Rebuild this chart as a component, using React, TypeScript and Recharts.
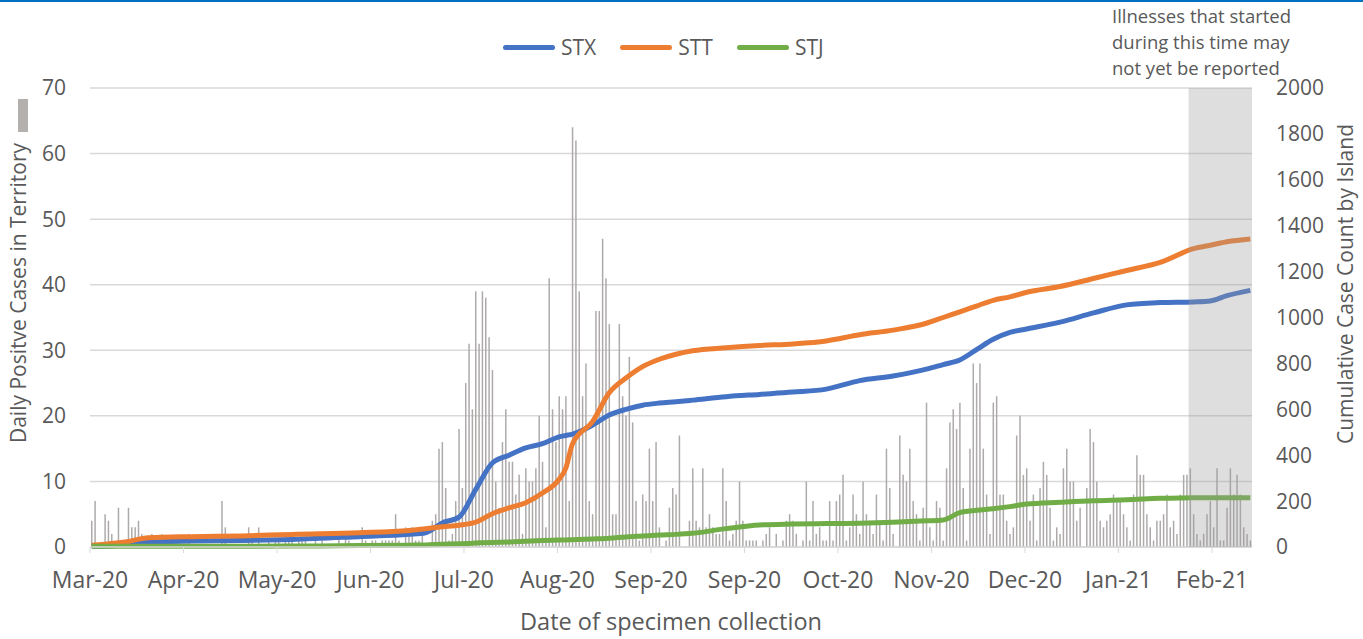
import React from "react";
import {
  ComposedChart,
  Bar,
  Line,
  XAxis,
  YAxis,
  CartesianGrid,
  ReferenceArea,
} from "recharts";

// daily positive cases, one per day of specimen collection
const daily = [
  4, 7, 0, 0, 5, 4, 2, 0, 6, 0,
  0, 6, 3, 3, 4, 2, 0, 0, 2, 0,
  0, 2, 0, 0, 0, 0, 0, 0, 0, 2,
  0, 0, 0, 0, 0, 0, 0, 0, 0, 7,
  3, 0, 0, 0, 0, 0, 0, 3, 1, 0,
  3, 0, 0, 1, 0, 1, 1, 0, 1, 1,
  1, 0, 1, 2, 2, 0, 0, 1, 0, 1,
  0, 0, 0, 0, 2, 0, 2, 1, 0, 0,
  0, 3, 1, 0, 1, 1, 0, 1, 1, 1,
  1, 5, 1, 0, 3, 2, 3, 1, 1, 3,
  0, 0, 4, 5, 15, 16, 9, 1, 2, 7,
  18, 9, 25, 31, 21, 39, 31, 39, 38, 32,
  27, 10, 6, 16, 21, 13, 13, 8, 11, 2,
  12, 10, 10, 12, 20, 13, 3, 41, 21, 16,
  23, 21, 23, 7, 64, 62, 39, 23, 28, 7,
  5, 36, 36, 47, 41, 34, 5, 5, 34, 23,
  20, 29, 19, 7, 1, 8, 7, 15, 7, 16,
  3, 0, 1, 6, 9, 8, 17, 0, 0, 4,
  12, 4, 3, 12, 3, 5, 3, 2, 2, 12,
  7, 1, 2, 4, 10, 4, 1, 1, 1, 1,
  0, 1, 2, 3, 0, 2, 0, 1, 4, 5,
  4, 2, 0, 1, 10, 1, 7, 2, 3, 1,
  1, 7, 1, 7, 8, 11, 1, 3, 8, 5,
  2, 10, 5, 4, 2, 8, 4, 1, 15, 9,
  2, 0, 17, 11, 10, 15, 7, 5, 1, 6,
  22, 3, 1, 7, 6, 1, 12, 19, 21, 18,
  22, 9, 1, 15, 28, 25, 28, 15, 8, 2,
  22, 23, 8, 8, 4, 2, 3, 17, 20, 11,
  12, 4, 8, 1, 9, 13, 11, 6, 1, 3,
  2, 12, 15, 10, 10, 4, 6, 0, 9, 18,
  16, 10, 4, 3, 4, 5, 8, 7, 7, 5,
  3, 1, 8, 14, 11, 11, 5, 3, 1, 4,
  4, 5, 8, 3, 4, 2, 8, 11, 11, 12,
  5, 2, 1, 2, 5, 7, 3, 12, 1, 1,
  6, 12, 8, 11, 8, 3, 2, 1,
];

// cumulative counts by island, read at these day indexes
const lineDays = [
  0, 10, 17, 30, 45, 60, 80, 95, 100, 105, 110, 115, 120, 125, 130, 135,
  140, 142, 144, 150, 155, 160, 165, 170, 175, 180, 190, 200, 210, 220, 230,
  240, 250, 255, 260, 265, 270, 275, 280, 290, 300, 310, 320, 330, 335, 340,
  347,
];
const stx = [
  3, 8, 22, 26, 28, 33, 45, 55, 62, 105, 130, 250, 366, 400, 432, 450,
  480, 486, 492, 531, 575, 600, 618, 627, 633, 640, 655, 665, 675, 688, 725,
  745, 775, 795, 815, 860, 905, 935, 950, 980, 1020, 1055, 1065, 1068, 1072,
  1095, 1118,
];
const stt = [
  8, 22, 40, 45, 48, 55, 62, 72, 80, 88, 95, 108, 145, 170, 193, 235,
  295, 344, 450, 546, 672, 736, 786, 818, 840, 855, 868, 878, 885, 898, 925,
  945, 975, 1000, 1025, 1050, 1075, 1090, 1110, 1135, 1170, 1205, 1240, 1300,
  1315, 1330, 1342,
];
const stj = [
  3, 3, 3, 3, 3, 4, 6, 8, 9, 12, 14, 17, 20, 22, 25, 28,
  30, 31, 32, 35, 38, 44, 48, 52, 55, 60, 80, 96, 100, 102, 104,
  108, 114, 118, 150, 160, 167, 176, 187, 195, 202, 206, 212, 215,
  215, 215, 215,
];

const tickLabels = [
  "Mar-20", "Apr-20", "May-20", "Jun-20", "Jul-20", "Aug-20", "Sep-20",
  "Sep-20", "Oct-20", "Nov-20", "Dec-20", "Jan-21", "Feb-21",
];
const tickStep = 28;
const leftTicks = [0, 10, 20, 30, 40, 50, 60, 70];
const rightTicks = [0, 200, 400, 600, 800, 1000, 1200, 1400, 1600, 1800, 2000];
const pendingFrom = 329;

const series = [
  { key: "stx", name: "STX", color: "#4472c4" },
  { key: "stt", name: "STT", color: "#ed7d31" },
  { key: "stj", name: "STJ", color: "#70ad47" },
];

const N = daily.length;
const rows: any[] = daily.map((v, i) => ({ x: i + 0.5, daily: v }));
lineDays.forEach((d, k) => {
  rows[d].stx = stx[k];
  rows[d].stt = stt[k];
  rows[d].stj = stj[k];
});

const FONT = "'Open Sans', sans-serif";
const TEXT = "#595959";

export default function App() {
  const xTicks = tickLabels.map((_, k) => k * tickStep);
  return (
    <div
      style={{
        position: "absolute",
        left: 0,
        top: 0,
        width: 1363,
        height: 639,
        background: "#fff",
        fontFamily: FONT,
        color: TEXT,
        overflow: "hidden",
      }}
    >
      <div style={{ position: "absolute", left: 0, top: 0, width: 1363, height: 2, background: "#0070c0" }} />

      <ComposedChart
        width={1363}
        height={639}
        data={rows}
        margin={{ top: 88, right: 41, bottom: 52, left: 30 }}
      >
        <CartesianGrid vertical={false} stroke="#d9d9d9" strokeWidth={1.5} yAxisId="left" />
        <XAxis
          type="number"
          dataKey="x"
          domain={[0, N]}
          ticks={xTicks}
          tickFormatter={(v) => tickLabels[Math.round(v / tickStep)]}
          axisLine={{ stroke: "#d9d9d9", strokeWidth: 1.5 }}
          tickLine={{ stroke: "#d9d9d9" }}
          tickSize={6}
          tickMargin={19}
          height={40}
          tick={{ fill: TEXT, fontSize: 23, fontFamily: FONT }}
          interval={0}
        />
        <YAxis
          yAxisId="left"
          domain={[0, 70]}
          ticks={leftTicks}
          width={60}
          axisLine={false}
          tickLine={false}
          tickSize={0}
          tickMargin={24}
          tick={{ fill: TEXT, fontSize: 21, fontFamily: FONT }}
        />
        <YAxis
          yAxisId="right"
          orientation="right"
          domain={[0, 2000]}
          ticks={rightTicks}
          width={70}
          axisLine={false}
          tickLine={false}
          tickSize={0}
          tickMargin={24}
          tick={{ fill: TEXT, fontSize: 21, fontFamily: FONT }}
        />
        <Bar
          yAxisId="left"
          dataKey="daily"
          fill="#aeaaaa"
          barSize={1.5}
          isAnimationActive={false}
        />
        {series.map((s) => (
          <Line
            key={s.key}
            yAxisId="right"
            type="monotone"
            dataKey={s.key}
            stroke={s.color}
            strokeWidth={5}
            dot={false}
            connectNulls
            isAnimationActive={false}
          />
        ))}
        <ReferenceArea
          yAxisId="left"
          x1={pendingFrom}
          x2={N}
          y1={0}
          y2={70}
          fill="#9a9a9a"
          fillOpacity={0.33}
          stroke="none"
          zIndex={1000}
        />
      </ComposedChart>

      {/* legend */}
      <div style={{ position: "absolute", top: 33, left: 503, display: "flex", alignItems: "center", fontSize: 21 }}>
        {series.map((s) => (
          <div key={s.key} style={{ display: "flex", alignItems: "center", marginRight: 24 }}>
            <div style={{ width: 52, height: 5, borderRadius: 3, background: s.color, marginRight: 6 }} />
            <span>{s.name}</span>
          </div>
        ))}
      </div>

      {/* bar series key */}
      <div style={{ position: "absolute", left: 18, top: 99, width: 10, height: 33, background: "#b4b0ae" }} />

      <div
        style={{
          position: "absolute",
          left: 18,
          top: 293,
          transform: "translate(-50%, -50%) rotate(-90deg)",
          whiteSpace: "nowrap",
          fontSize: 21,
        }}
      >
        Daily Positve Cases in Territory
      </div>
      <div
        style={{
          position: "absolute",
          left: 1345,
          top: 284,
          transform: "translate(-50%, -50%) rotate(-90deg)",
          whiteSpace: "nowrap",
          fontSize: 21,
        }}
      >
        Cumulative Case Count by Island
      </div>
      <div style={{ position: "absolute", left: 671, top: 621, transform: "translate(-50%, -50%)", whiteSpace: "nowrap", fontSize: 23.5 }}>
        Date of specimen collection
      </div>
      <div style={{ position: "absolute", left: 1112, top: 3, fontSize: 18.5, lineHeight: "26px" }}>
        Illnesses that started
        <br />
        during this time may
        <br />
        not yet be reported
      </div>
    </div>
  );
}
